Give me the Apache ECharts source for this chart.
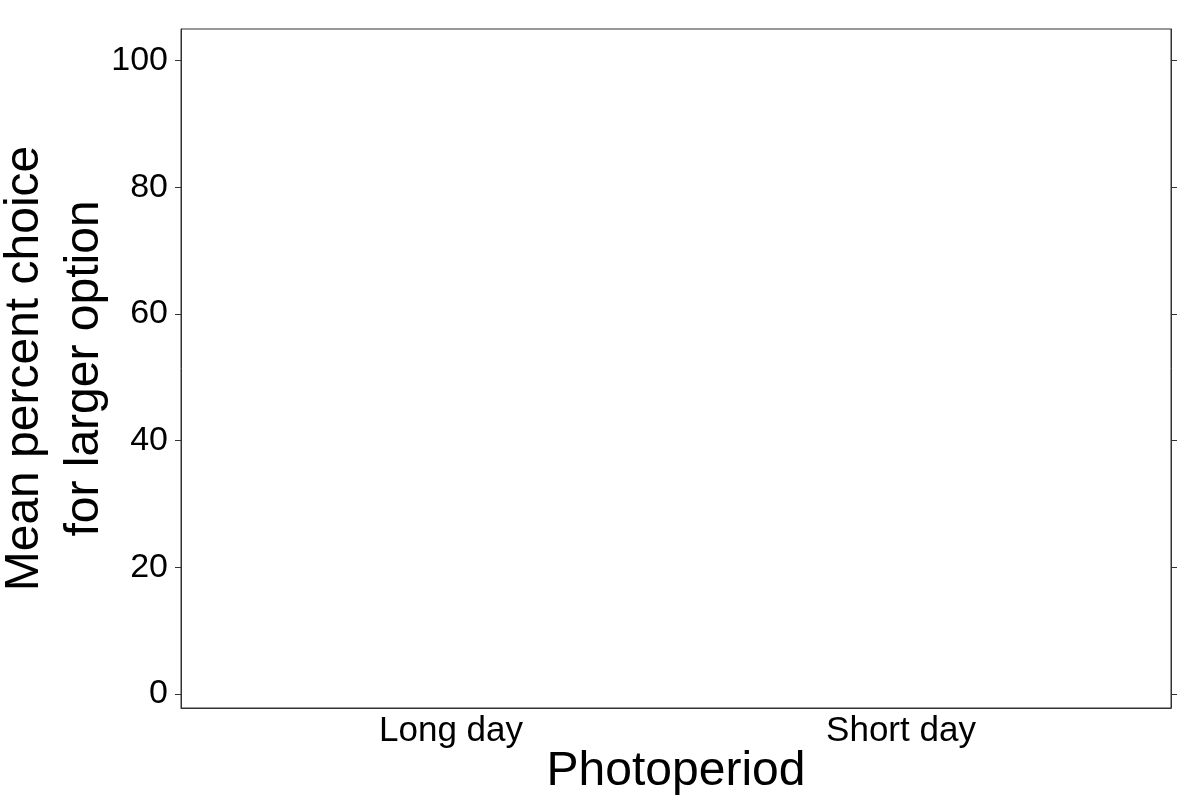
<!DOCTYPE html>
<html>
<head>
<meta charset="utf-8">
<script src="https://cdn.jsdelivr.net/npm/echarts@6/dist/echarts.min.js"></script>
<style>html,body{margin:0;padding:0;background:#fff}#c{width:1200px;height:800px}</style>
</head>
<body>
<div id="c"></div>
<script>
var categories = ['Long day', 'Short day'];
var yTicks = [0, 20, 40, 60, 80, 100];
var meanValues = []; // no marks drawn in the reference
var xTitle = 'Photoperiod';
var yTitle = 'Mean percent choice\nfor larger option';

var chart = echarts.init(document.getElementById('c'));
var font = 'Liberation Sans, Arial, Helvetica, sans-serif';
chart.setOption({
  animation: false,
  backgroundColor: '#ffffff',
  grid: { left: 181, right: 29, top: 29, bottom: 92, containLabel: false, outerBoundsMode: 'none',
          show: true, borderColor: '#333', borderWidth: 1, backgroundColor: 'transparent' },
  xAxis: {
    type: 'value', min: 0.4, max: 2.6,
    name: xTitle, nameLocation: 'middle', nameGap: 40, nameMoveOverlap: false,
    nameTextStyle: { fontSize: 48, color: '#000', fontFamily: font },
    axisLine: { show: true, onZero: false, lineStyle: { color: '#333', width: 1 } },
    axisTick: { show: false },
    splitLine: { show: false },
    axisLabel: {
      customValues: [1, 2], margin: 6, fontSize: 35, color: '#000', fontFamily: font,
      formatter: function (v) { return categories[Math.round(v) - 1] || ''; }
    }
  },
  yAxis: [{
    type: 'value', min: -2.21, max: 105, position: 'left',
    name: yTitle, nameLocation: 'middle', nameGap: 66, nameMoveOverlap: false,
    nameTextStyle: { fontSize: 48, color: '#000', fontFamily: font, lineHeight: 60 },
    axisLine: { show: true, onZero: false, lineStyle: { color: '#333', width: 1 } },
    axisTick: { show: true, customValues: yTicks, length: 6, lineStyle: { color: '#333' } },
    splitLine: { show: false },
    axisLabel: { customValues: yTicks, margin: 13, fontSize: 34, color: '#000', fontFamily: font }
  }, {
    type: 'value', min: -2.21, max: 105, position: 'right',
    axisLine: { show: true, onZero: false, lineStyle: { color: '#333', width: 1 } },
    axisTick: { show: true, customValues: yTicks, length: 6, lineStyle: { color: '#333' } },
    splitLine: { show: false },
    axisLabel: { show: false }
  }],
  series: [{ type: 'scatter', data: meanValues, yAxisIndex: 0 }]
});
</script>
</body>
</html>
